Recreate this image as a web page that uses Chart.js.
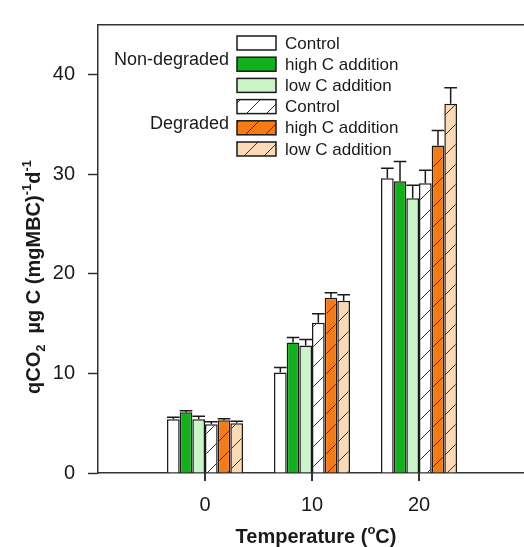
<!DOCTYPE html>
<html>
<head>
<meta charset="utf-8">
<script src="https://cdn.jsdelivr.net/npm/chart.js@4/dist/chart.umd.min.js"></script>
<style>
  html, body { margin: 0; padding: 0; background: #fff; overflow: hidden; }
  #wrap { position: absolute; left: 0; top: 0; }
</style>
</head>
<body>
<div id="wrap"><canvas id="qco2Chart" width="540" height="547"></canvas></div>
<script>
'use strict';

// incubation temperatures (°C)
const temps = ['0', '10', '20'];
const yTicks = [0, 10, 20, 30, 40];
const groupNames  = ['Non-degraded', 'Degraded'];
const seriesNames = ['Control', 'high C addition', 'low C addition',
                     'Control', 'high C addition', 'low C addition'];

// qCO2 means
const ndControl = [5.4, 10.1, 29.6];
const ndHighC   = [6.1, 13.1, 29.3];
const ndLowC    = [5.4, 12.8, 27.6];
const dgControl = [4.9, 15.1, 29.1];
const dgHighC   = [5.3, 17.6, 32.9];
const dgLowC    = [5.0, 17.3, 37.1];

// standard errors (upper bar only)
const ndControlErr = [0.2, 0.5, 1.0];
const ndHighCErr   = [0.15, 0.5, 2.0];
const ndLowCErr    = [0.3, 0.6, 1.3];
const dgControlErr = [0.25, 0.9, 1.3];
const dgHighCErr   = [0.15, 0.5, 1.5];
const dgLowCErr    = [0.2, 0.6, 1.6];

const INK  = '#1a1a1a';
const AXIS = '#333';
const FONT = "'Liberation Sans', Arial, sans-serif";

function hatch(fill) {
  const s = 20;
  const c = document.createElement('canvas');
  c.width = c.height = s;
  const g = c.getContext('2d');
  g.fillStyle = fill;
  g.fillRect(0, 0, s, s);
  g.strokeStyle = '#333';
  g.lineWidth = 1;
  g.beginPath();
  g.moveTo(0, s); g.lineTo(s, 0);
  g.moveTo(-1, 1); g.lineTo(1, -1);
  g.moveTo(s - 1, s + 1); g.lineTo(s + 1, s - 1);
  g.stroke();
  return g.createPattern(c, 'repeat');
}

// pad the category axis so the three clusters sit at 1/4, 1/2, 3/4 of the width
const labels = ['', ...temps, ''];
const pad = (arr) => [null, ...arr, null];

const series = [
  { data: ndControl, err: ndControlErr, fill: '#ffffff' },
  { data: ndHighC,   err: ndHighCErr,   fill: '#12b01a' },
  { data: ndLowC,    err: ndLowCErr,    fill: '#c9f5c9' },
  { data: dgControl, err: dgControlErr, fill: hatch('#ffffff') },
  { data: dgHighC,   err: dgHighCErr,   fill: hatch('#f57c14') },
  { data: dgLowC,    err: dgLowCErr,    fill: hatch('#fcdab6') },
];

const datasets = series.map((s, i) => ({
  label: seriesNames[i],
  data: pad(s.data),
  errors: pad(s.err),
  backgroundColor: s.fill,
  borderColor: INK,
  borderWidth: 1.5,
  barPercentage: 1,
  categoryPercentage: 0.71,
}));

const errorBars = {
  id: 'errorBars',
  afterDatasetsDraw(chart) {
    const { ctx, scales: { y } } = chart;
    ctx.save();
    ctx.strokeStyle = INK;
    ctx.lineWidth = 1.5;
    chart.data.datasets.forEach((ds, di) => {
      chart.getDatasetMeta(di).data.forEach((bar, i) => {
        const v = ds.data[i], e = ds.errors[i];
        if (v == null || e == null) return;
        const top = y.getPixelForValue(v + e);
        const half = bar.width / 2;
        ctx.beginPath();
        ctx.moveTo(bar.x, bar.y);
        ctx.lineTo(bar.x, top);
        ctx.moveTo(bar.x - half, top);
        ctx.lineTo(bar.x + half, top);
        ctx.stroke();
      });
    });
    ctx.restore();
  },
};

// x tick marks only under the real temperature labels
const tempTicks = {
  id: 'tempTicks',
  afterDraw(chart) {
    const { ctx, chartArea, scales: { x } } = chart;
    const base = chartArea.bottom;
    ctx.save();
    ctx.strokeStyle = AXIS;
    ctx.lineWidth = 2;
    ctx.beginPath();
    temps.forEach((t, i) => {
      const px = Math.round(x.getPixelForValue(i + 1));
      ctx.moveTo(px, base);
      ctx.lineTo(px, base + 8);
    });
    ctx.stroke();
    ctx.restore();
  },
};

const groupedLegend = {
  id: 'groupedLegend',
  afterDraw(chart) {
    const { ctx } = chart;
    const bx = 237, bw = 39, bh = 14, y0 = 43, step = 21.2;
    ctx.save();
    ctx.textBaseline = 'middle';
    chart.data.datasets.forEach((ds, i) => {
      const cy = y0 + i * step;
      ctx.fillStyle = ds.backgroundColor;
      ctx.fillRect(bx, cy - bh / 2, bw, bh);
      ctx.strokeStyle = INK;
      ctx.lineWidth = 1.5;
      ctx.strokeRect(bx, cy - bh / 2, bw, bh);
      ctx.fillStyle = INK;
      ctx.font = `17px ${FONT}`;
      ctx.textAlign = 'left';
      ctx.fillText(ds.label, bx + 48, cy + 1);
    });
    ctx.font = `18px ${FONT}`;
    ctx.textAlign = 'right';
    groupNames.forEach((name, g) => {
      ctx.fillText(name, bx - 8, y0 + (g * 3 + 1) * step - 4);
    });
    ctx.restore();
  },
};

// axis titles with sub/superscripts
function drawRuns(ctx, runs, x, y) {
  let w = 0;
  runs.forEach((r) => { ctx.font = r.font; w += ctx.measureText(r.t).width; });
  let cx = x - w / 2;
  runs.forEach((r) => {
    ctx.font = r.font;
    ctx.fillText(r.t, cx, y + (r.dy || 0));
    cx += ctx.measureText(r.t).width;
  });
}

const axisTitles = {
  id: 'axisTitles',
  afterDraw(chart) {
    const { ctx } = chart;
    const big = `bold 20px ${FONT}`, small = `bold 13px ${FONT}`;
    ctx.save();
    ctx.fillStyle = INK;
    ctx.textAlign = 'left';
    ctx.textBaseline = 'alphabetic';
    drawRuns(ctx, [
      { t: 'Temperature (', font: big },
      { t: 'o', font: small, dy: -9 },
      { t: 'C)', font: big },
    ], 316, 543);

    ctx.translate(40, 277);
    ctx.rotate(-Math.PI / 2);
    drawRuns(ctx, [
      { t: 'qCO', font: big },
      { t: '2', font: small, dy: 5 },
      { t: '  µg C (mgMBC)', font: big },
      { t: '-1', font: small, dy: -9 },
      { t: 'd', font: big },
      { t: '-1', font: small, dy: -9 },
    ], 0, 0);
    ctx.restore();
  },
};

new Chart(document.getElementById('qco2Chart'), {
  type: 'bar',
  data: { labels, datasets },
  plugins: [errorBars, tempTicks, groupedLegend, axisTitles],
  options: {
    responsive: false,
    animation: false,
    layout: { padding: { left: 0, right: 14, top: 19, bottom: 0 } },
    plugins: { legend: { display: false }, tooltip: { enabled: false } },
    scales: {
      x: {
        offset: false,
        afterFit: (s) => { s.height = 74; },
        border: { display: true, color: AXIS, width: 1.5 },
        grid: { offset: false, display: false, tickLength: 8 },
        ticks: { color: INK, padding: 12, maxRotation: 0, autoSkip: false, font: { family: FONT, size: 20 } },
      },
      xTop: {
        position: 'top',
        afterFit: (s) => { s.height = 0; },
        border: { display: true, color: AXIS, width: 1.5 },
        grid: { display: false, drawTicks: false },
        ticks: { display: false },
      },
      y: {
        min: 0,
        max: 45,
        afterFit: (s) => { s.width = 98; },
        afterBuildTicks: (s) => { s.ticks = s.ticks.filter((t) => yTicks.includes(t.value)); },
        border: { display: true, color: AXIS, width: 1.5 },
        grid: { drawOnChartArea: false, tickLength: 10, tickColor: AXIS, tickWidth: 1.5 },
        ticks: { stepSize: 10, color: INK, padding: 13, font: { family: FONT, size: 20 } },
      },
    },
  },
});
</script>
</body>
</html>
